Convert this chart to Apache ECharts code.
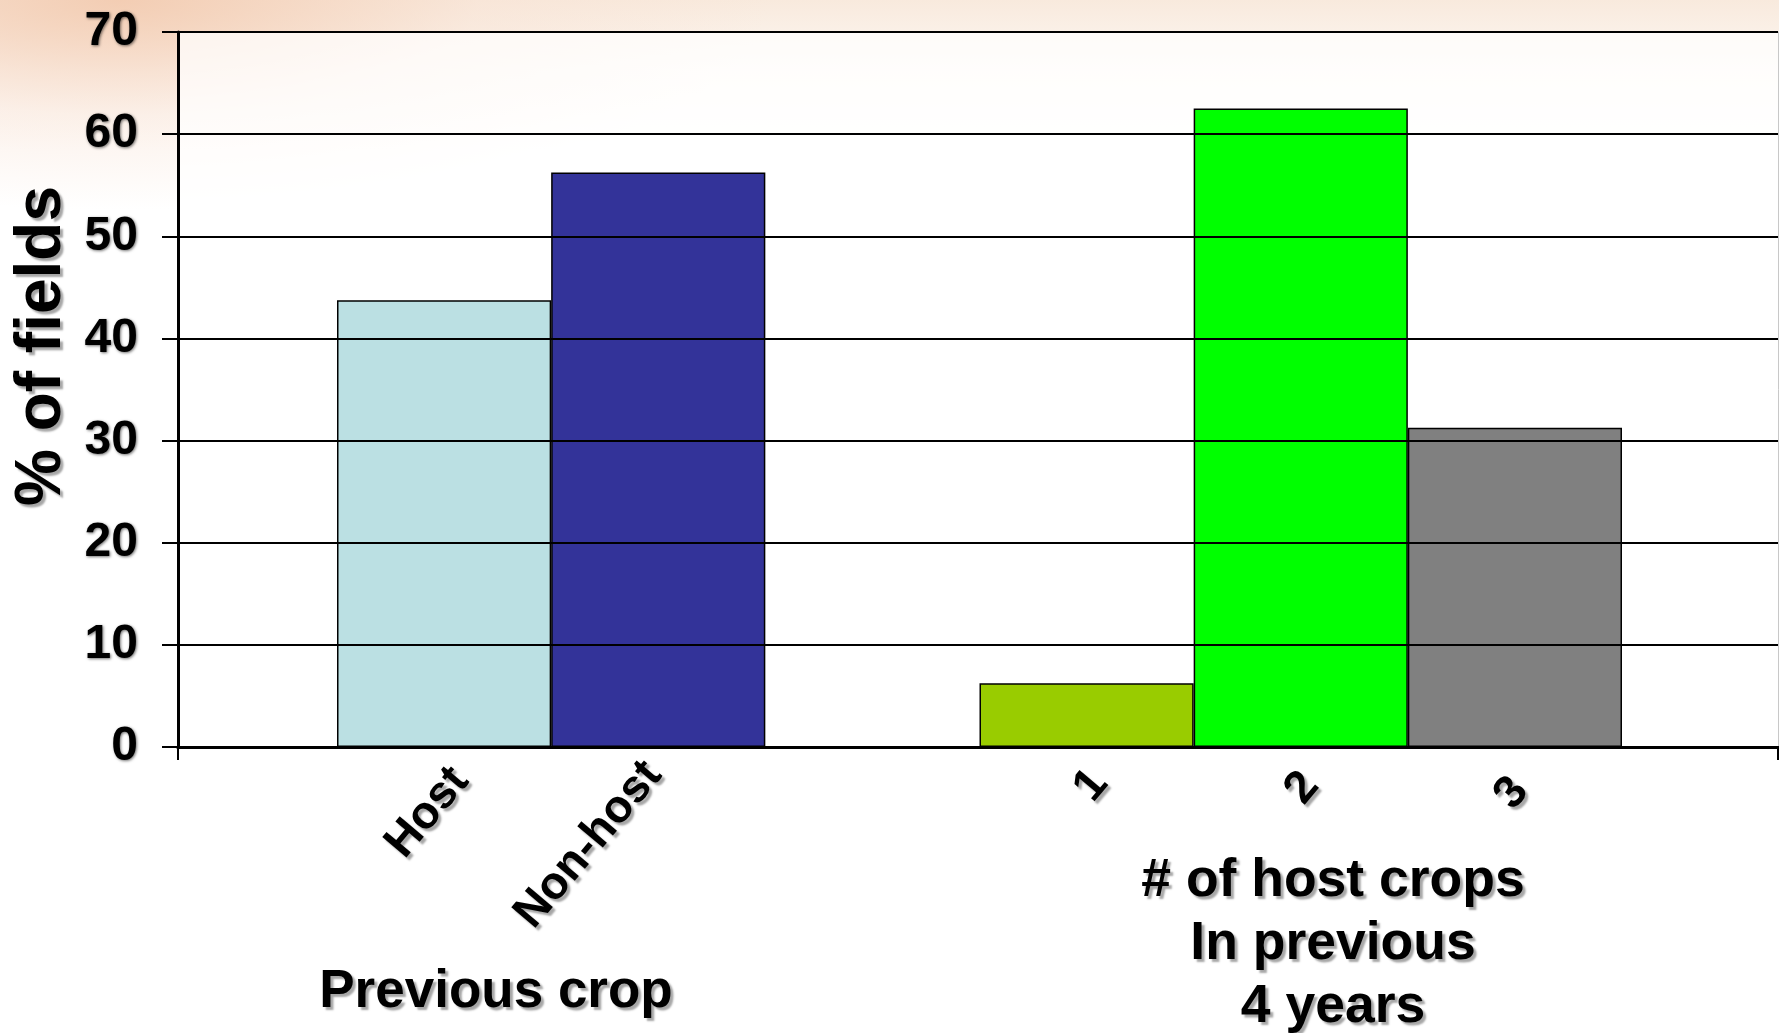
<!DOCTYPE html>
<html>
<head>
<meta charset="utf-8">
<script src="https://cdn.jsdelivr.net/npm/echarts@6/dist/echarts.min.js"></script>
<style>
html,body{margin:0;padding:0;width:1779px;height:1033px;overflow:hidden;background:#fff;}
#bg{position:absolute;left:0;top:0;width:1779px;height:1033px;
background:
 radial-gradient(ellipse 650px 210px at 120px 0px, rgba(242,200,172,0.85), rgba(248,225,210,0.45) 55%, rgba(255,255,255,0) 100%),
 linear-gradient(to bottom, rgba(247,230,215,0.85) 0px, rgba(251,242,234,0.55) 70px, rgba(255,255,255,0) 150px);}
#chart{position:absolute;left:0;top:0;width:1779px;height:1033px;}
</style>
</head>
<body>
<div id="bg"></div>
<div id="chart"></div>
<script>
// ---- data ----
const categories = ['Host', 'Non-host', '', '1', '2', '3'];
const percentOfFields = [43.75, 56.25, null, 6.25, 62.5, 31.25];
const yMin = 0, yMax = 70, yStep = 10;
const yAxisTitle = '% of fields';
const groupTitleLeft = 'Previous crop';
const groupTitleRight = '# of host crops\nIn previous\n4 years';
// ---- styles ----
const barColors = ['#BBE0E3', '#333399', 'rgba(0,0,0,0)', '#99CC00', '#00FF00', '#808080'];
const labelPadding = [[0, 2, 0, 0], [-20, 11, 0, 0], [0, 0, 0, 0], [-1, 6, 0, 0], [-2, 10, 0, 0], [-2, 17, 0, 0]];
const FONT = 'Arial, "Liberation Sans", Helvetica, sans-serif';
const shadow = {textShadowColor: 'rgba(0,0,0,0.35)', textShadowBlur: 2, textShadowOffsetX: 3, textShadowOffsetY: 3};

const chart = echarts.init(document.getElementById('chart'), null, {renderer: 'canvas'});
const option = {
  animation: false,
  backgroundColor: 'transparent',
  grid: [
    {left: 178, right: 1, top: 32, bottom: 286, show: true, backgroundColor: 'rgba(255,255,255,0.72)', borderWidth: 0, containLabel: false},
    {left: 337, right: 157, top: 32, bottom: 286, containLabel: false}
  ],
  xAxis: [
    {gridIndex: 0, type: 'category', data: [''], boundaryGap: true, z: 10,
     axisLine: {lineStyle: {color: '#000', width: 3}},
     axisTick: {show: true, length: 13, lineStyle: {color: '#000', width: 2}},
     axisLabel: {show: false}, splitLine: {show: false}},
    {gridIndex: 0, type: 'category', data: [''], position: 'top', z: 10,
     axisLine: {lineStyle: {color: '#000', width: 3}},
     axisTick: {show: false}, axisLabel: {show: false}, splitLine: {show: false}},
    {gridIndex: 1, type: 'category', boundaryGap: true,
     data: categories.map((c, i) => ({value: c,
       textStyle: {padding: labelPadding[i], verticalAlign: 'top', align: 'right'}})),
     axisLine: {show: false}, axisTick: {show: false}, splitLine: {show: false},
     axisLabel: Object.assign({interval: 0, rotate: 50, margin: 10, verticalAlign: 'top', align: 'right',
       fontSize: 46, fontWeight: 'bold', fontFamily: FONT, color: '#000'}, shadow)}
  ],
  yAxis: [
    {gridIndex: 0, type: 'value', min: yMin, max: yMax, interval: yStep, z: 10,
     axisLine: {show: true, lineStyle: {color: '#000', width: 3}},
     axisTick: {show: true, inside: false, length: 16, lineStyle: {color: '#000', width: 2}},
     axisLabel: {margin: 40, fontSize: 48, fontWeight: 'bold', fontFamily: FONT, color: '#000',
       textShadowColor: 'rgba(0,0,0,0.55)', textShadowBlur: 3, textShadowOffsetX: 1, textShadowOffsetY: 1},
     splitLine: {show: true, lineStyle: {color: '#000', width: 2}}},
    {gridIndex: 0, type: 'value', min: yMin, max: yMax, position: 'right',
     axisLine: {show: true, lineStyle: {color: '#c8c8c8', width: 1}},
     axisTick: {show: false}, axisLabel: {show: false}, splitLine: {show: false}},
    {gridIndex: 1, type: 'value', min: yMin, max: yMax, interval: yStep, show: false, splitLine: {show: false}}
  ],
  series: [{
    type: 'bar', xAxisIndex: 2, yAxisIndex: 2,
    barCategoryGap: '0%', barGap: '0%',
    data: categories.map((c, i) => ({
      value: percentOfFields[i] === null ? '-' : percentOfFields[i],
      itemStyle: {color: barColors[i]}
    })),
    itemStyle: {borderColor: '#000', borderWidth: 1.5}
  }],
  graphic: [
    {type: 'text', x: 42, y: 346, rotation: Math.PI / 2, z: 20,
     style: Object.assign({text: yAxisTitle, fontSize: 64, fontWeight: 'bold', fontFamily: FONT,
       fill: '#000', align: 'center', verticalAlign: 'middle'}, shadow)},
    {type: 'text', x: 496, y: 992, z: 20,
     style: Object.assign({text: groupTitleLeft, fontSize: 53, fontWeight: 'bold', fontFamily: FONT,
       fill: '#000', align: 'center', verticalAlign: 'middle'}, shadow)},
    {type: 'text', x: 1333, y: 944, z: 20,
     style: Object.assign({text: groupTitleRight, fontSize: 53.5, lineHeight: 63, fontWeight: 'bold', fontFamily: FONT,
       fill: '#000', align: 'center', verticalAlign: 'middle'}, shadow)}
  ]
};
chart.setOption(option);
</script>
</body>
</html>
